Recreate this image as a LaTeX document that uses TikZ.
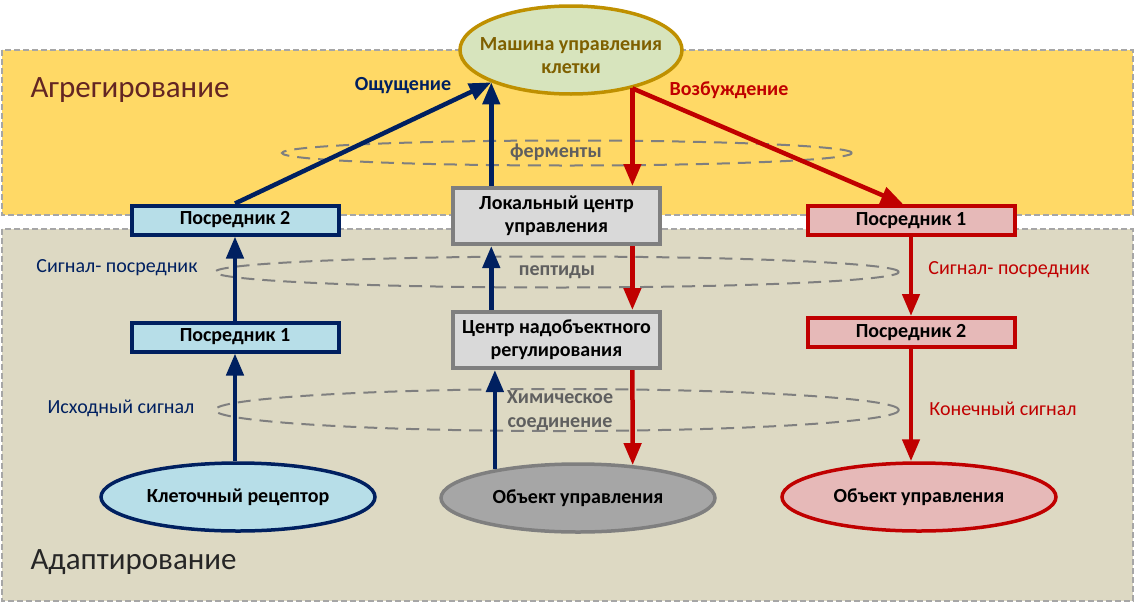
\documentclass[tikz,border=0pt]{standalone}
\usepackage{fontspec}
\setmainfont{Carlito}
\usetikzlibrary{positioning, arrows.meta, shapes.geometric}

\definecolor{navy}{HTML}{002060}
\definecolor{crimson}{HTML}{C00000}
\definecolor{yellowband}{HTML}{FFD966}
\definecolor{beigeband}{HTML}{DDD9C3}
\definecolor{skyfill}{HTML}{B7DEE8}
\definecolor{rosefill}{HTML}{E6B9B8}
\definecolor{greyfill}{HTML}{D9D9D9}
\definecolor{greyline}{HTML}{7F7F7F}
\definecolor{darkgrey}{HTML}{A6A6A6}
\definecolor{sagefill}{HTML}{D7E4BD}
\definecolor{goldline}{HTML}{BF9000}
\definecolor{goldtext}{HTML}{7F6000}
\definecolor{brick}{HTML}{632523}
\definecolor{ringtext}{HTML}{5F5F5F}

\begin{document}
\begin{tikzpicture}[x=1pt, y=-1pt, >={Triangle[length=22pt, width=17pt]},
    boldtext/.style={font=\fontsize{20}{23}\selectfont\bfseries, align=center},
    box/.style={rectangle, boldtext, line width=4pt, inner sep=0pt, minimum width=207pt, minimum height=29pt},
    bluebox/.style={box, draw=navy, fill=skyfill},
    greybox/.style={box, draw=greyline, fill=greyfill, minimum height=56pt},
    redbox/.style={box, draw=crimson, fill=rosefill},
    oval/.style={ellipse, boldtext, line width=3.5pt, inner sep=0pt, minimum width=274pt, minimum height=68pt},
    ring/.style={ellipse, draw=greyline, line width=2pt, dash pattern=on 13pt off 8pt},
    ringlabel/.style={font=\fontsize{20}{24}\selectfont\bfseries, text=ringtext, align=center},
    sidelabel/.style={font=\fontsize{20}{23}\selectfont},
    bandtitle/.style={font=\fontsize{31}{36}\selectfont, anchor=west},
    band/.style={draw=darkgrey, line width=1.2pt, dash pattern=on 6pt off 3pt},
    navyline/.style={color=navy, line width=4.5pt},
    redline/.style={color=crimson, line width=4.5pt}]

  \useasboundingbox (0,0) rectangle (1136,603);

  % levels
  \draw[band, fill=yellowband] (2,50) rectangle (1133,215);
  \draw[band, fill=beigeband] (2,229) rectangle (1133,601);
  \node[bandtitle, text=brick] (aggr) at (27,90) {Агрегирование};
  \node[bandtitle, text=black!85] (adapt) at (27,562) {Адаптирование};

  % dashed rings
  \node[ring, minimum width=570pt, minimum height=25pt] (ferm) at (567,153) {};
  \node[ring, minimum width=684pt, minimum height=31pt] (pept) at (557,272) {};
  \node[ring, minimum width=684pt, minimum height=42pt] (chem) at (557,410) {};
  \node[ringlabel] (fermtext) at (556,152) {ферменты};
  \node[ringlabel] (pepttext) at (557,272) {пептиды};
  \node[ringlabel] (chemtext) at (560,411) {Химическое\\соединение};

  % top
  \node[oval, draw=goldline, fill=sagefill, minimum width=222pt, minimum height=88pt,
        label={[boldtext, text=goldtext, yshift=-6pt]center:Машина управления\\клетки}] (mach) at (571,50) {};
  \coordinate (sense) at (mach.south west);
  \coordinate (excite) at (mach.-32);

  % left column
  \node[bluebox] (lp2) at (235,220) {Посредник 2};
  \node[bluebox, below=84pt of lp2] (lp1) {Посредник 1};
  \node[oval, draw=navy, fill=skyfill] (rec) at (238,497) {Клеточный рецептор};

  % middle column
  \node[greybox] (loc) at (556.5,216) {Локальный центр\\управления};
  \node[greybox, below=64pt of loc] (cen) {Центр надобъектного\\регулирования};
  \node[oval, draw=greyline, fill=darkgrey] (obj) at (578,498) {Объект управления};

  % right column
  \node[redbox] (rp1) at (911,220.5) {Посредник 1};
  \node[redbox, below=79pt of rp1] (rp2) {Посредник 2};
  \node[oval, draw=crimson, fill=rosefill] (robj) at (919,497) {Объект управления};

  % labels
  \node[boldtext, text=navy] (feel) at (403,86) {Ощущение};
  \node[boldtext, text=crimson] (arouse) at (729,90) {Возбуждение};
  \node[sidelabel, text=navy] (lsig) at (117,268) {Сигнал- посредник};
  \node[sidelabel, text=navy] (lsrc) at (121,408) {Исходный сигнал};
  \node[sidelabel, text=crimson] (rsig) at (1009,270) {Сигнал- посредник};
  \node[sidelabel, text=crimson] (rend) at (1003,409) {Конечный сигнал};

  \path[->, navyline]
    (lp2.north) edge (sense)
    (lp1.north) edge (lp2.south)
    (rec.north -| lp1.south) edge (lp1.south)
    (loc.north -| sense) edge (sense)
    (cen.north -| sense) edge (loc.south -| sense)
    (obj.161) edge (obj.161 |- cen.south)
  ;
  \path[->, redline]
    (excite) edge (excite |- loc.north)
    (excite) edge ([xshift=-8pt]rp1.north)
    (loc.south -| excite) edge (cen.north -| excite)
    (cen.south -| excite) edge (obj.31)
    (rp1.south) edge (rp2.north)
    (rp2.south) edge (robj.north -| rp2.south)
  ;
\end{tikzpicture}
\end{document}
